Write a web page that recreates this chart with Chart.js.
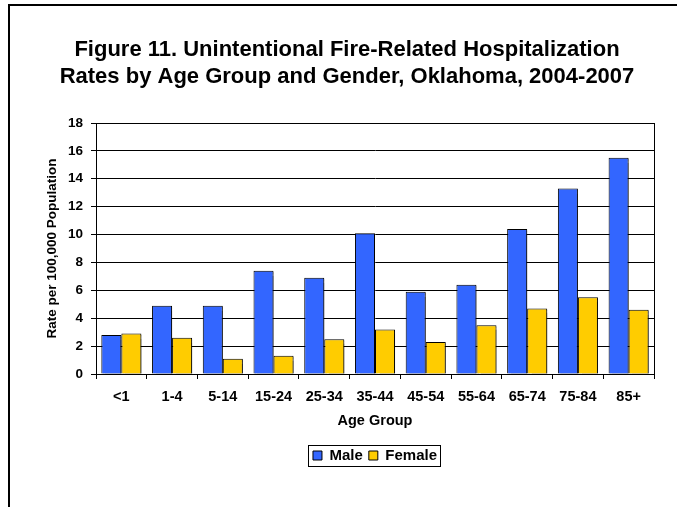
<!DOCTYPE html>
<html>
<head>
<meta charset="utf-8">
<script src="https://cdn.jsdelivr.net/npm/chart.js@4/dist/chart.umd.min.js"></script>
<style>
body{margin:0;background:#fff}
#wrap{width:677px;height:507px;position:relative}
</style>
</head>
<body>
<div id="wrap"><canvas id="mainChart" width="677" height="507"></canvas></div>
<script>
const ageGroups=["<1","1-4","5-14","15-24","25-34","35-44","45-54","55-64","65-74","75-84","85+"]
const maleRates=[2.8,4.9,4.9,7.4,6.9,10.1,5.9,6.4,10.4,13.3,15.5]
const femaleRates=[2.9,2.6,1.1,1.3,2.5,3.2,2.3,3.5,4.7,5.5,4.6]
const titleLines=["Figure 11. Unintentional Fire-Related Hospitalization","Rates by Age Group and Gender, Oklahoma, 2004-2007"]

const font="Arial, 'Liberation Sans', sans-serif"

// frame lines + plot border + legend box
const decor={
id:"decor",
beforeDraw(chart){
const c=chart.ctx
c.save()
c.fillStyle="#fff"
c.fillRect(0,0,chart.width,chart.height)
c.strokeStyle="#000"
c.lineWidth=2
c.beginPath()
c.moveTo(9,507)
c.lineTo(9,5)
c.lineTo(677,5)
c.stroke()
c.restore()
},
beforeDatasetsDraw(chart){
chart.ctx.save()
chart.ctx.shadowColor="rgba(0,0,0,0.45)"
chart.ctx.shadowOffsetX=1.5
chart.ctx.shadowOffsetY=1.5
chart.ctx.shadowBlur=1
},
afterDatasetsDraw(chart){
chart.ctx.restore()
},
afterDraw(chart){
const c=chart.ctx
const a=chart.chartArea
c.save()
c.strokeStyle="#000"
c.lineWidth=1
c.strokeRect(Math.round(a.left)+0.5,Math.round(a.top)+0.5,Math.round(a.right-a.left),Math.round(a.bottom-a.top))
const boxes=chart.legend.legendHitBoxes
if(boxes&&boxes.length){
const x0=boxes[0].left-5
const last=boxes[boxes.length-1]
const x1=last.left+last.width+3
const y0=boxes[0].top-3
const y1=boxes[0].top+boxes[0].height+3
c.strokeRect(Math.round(x0)+0.5,Math.round(y0)+0.5,Math.round(x1-x0),Math.round(y1-y0))
}
c.restore()
}
}

new Chart(document.getElementById("mainChart"),{
type:"bar",
data:{
labels:ageGroups,
datasets:[
{label:"Male",data:maleRates,backgroundColor:"#3366FF",borderColor:"#000",borderWidth:1},
{label:"Female",data:femaleRates,backgroundColor:"#FFCC00",borderColor:"#000",borderWidth:1}
]
},
options:{
responsive:false,
animation:false,
devicePixelRatio:1,
layout:{padding:{top:36,left:40,right:23,bottom:34}},
datasets:{bar:{categoryPercentage:0.79,barPercentage:1}},
plugins:{
title:{display:true,text:titleLines,color:"#000",font:{family:font,size:22,weight:"bold",lineHeight:27.5/22},padding:{top:0,bottom:32}},
legend:{
position:"bottom",
fullSize:false,
labels:{color:"#000",boxWidth:9,boxHeight:9,padding:6,font:{family:font,size:15,weight:"bold"}}
},
tooltip:{enabled:false}
},
scales:{
x:{
grid:{offset:true,drawOnChartArea:false,drawTicks:true,tickLength:5,color:"#000"},
border:{color:"#000"},
ticks:{color:"#000",padding:9,maxRotation:0,font:{family:font,size:14.5,weight:"bold"}},
title:{display:true,text:"Age Group",color:"#000",padding:{top:0,bottom:12},font:{family:font,size:14.5,weight:"bold"}},
afterFit(s){s.height=68}
},
y:{
min:0,max:18,
ticks:{stepSize:2,color:"#000",padding:8,font:{family:font,size:13.5,weight:"bold"}},
grid:{color:"#000",tickLength:5},
border:{color:"#000"},
title:{display:true,text:"Rate per 100,000 Population",color:"#000",padding:{top:4,bottom:0},font:{family:font,size:13.5,weight:"bold"}},
afterFit(s){s.width=56}
}
}
},
plugins:[decor]
})
</script>
</body>
</html>
